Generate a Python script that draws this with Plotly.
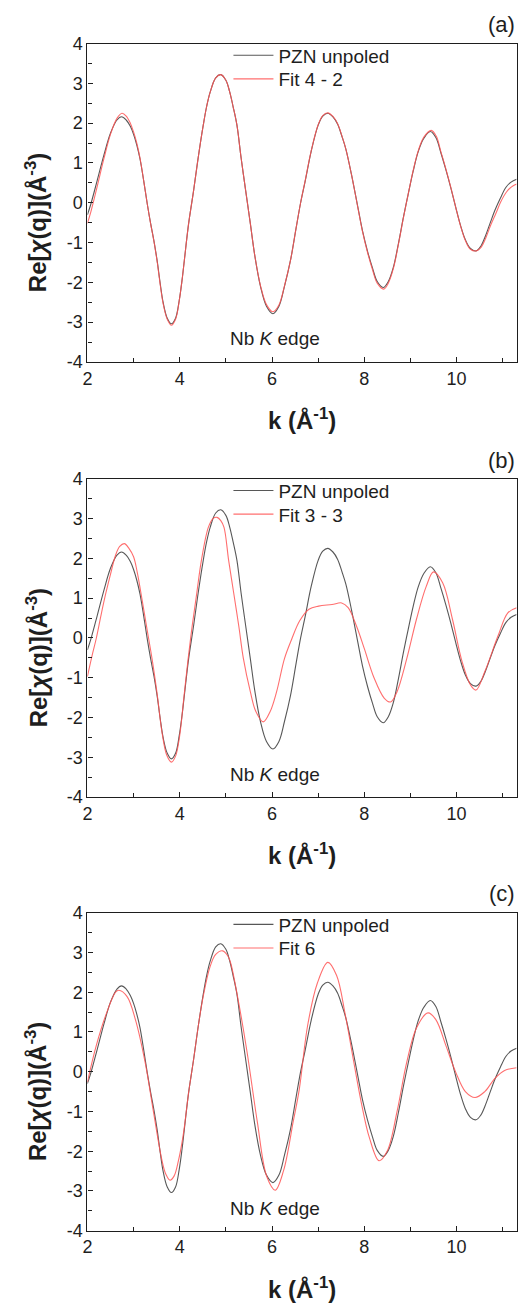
import plotly.graph_objects as go

# ---------------- data ----------------
K_UNPOLED = [2.00, 2.07, 2.21, 2.36, 2.50, 2.64, 2.74, 2.84, 2.93, 3.00, 3.07, 3.14, 3.22, 3.30,
             3.37, 3.44, 3.51, 3.58, 3.64, 3.73, 3.82, 3.91, 3.99, 4.05, 4.10, 4.19, 4.30, 4.40,
             4.51, 4.58, 4.66, 4.78, 4.89, 5.00, 5.08, 5.16, 5.24, 5.33, 5.43, 5.53, 5.63, 5.75,
             5.88, 6.02, 6.15, 6.27, 6.40, 6.52, 6.62, 6.72, 6.85, 7.00, 7.10, 7.21, 7.32, 7.42,
             7.52, 7.60, 7.72, 7.86, 7.96, 8.07, 8.18, 8.28, 8.41, 8.52, 8.63, 8.74, 8.85, 8.95,
             9.06, 9.17, 9.29, 9.43, 9.55, 9.66, 9.77, 9.88, 9.98, 10.08, 10.19, 10.30, 10.42,
             10.52, 10.62, 10.73, 10.83, 10.95, 11.07, 11.18, 11.30]
CHI_UNPOLED = [-0.30, -0.05, 0.55, 1.21, 1.75, 2.08, 2.16, 2.08, 1.92, 1.72, 1.45, 1.10, 0.55, -0.05,
               -0.52, -0.95, -1.45, -2.05, -2.50, -2.90, -3.04, -2.90, -2.45, -1.95, -1.45, -0.55, 0.30, 1.13,
               1.95, 2.40, 2.78, 3.14, 3.22, 3.08, 2.80, 2.40, 1.95, 1.13, 0.30, -0.52, -1.35, -2.10,
               -2.60, -2.79, -2.60, -2.10, -1.45, -0.65, 0.00, 0.55, 1.30, 1.95, 2.18, 2.25, 2.16, 1.98,
               1.65, 1.35, 0.72, -0.11, -0.70, -1.22, -1.65, -1.98, -2.13, -1.98, -1.62, -1.02, -0.35, 0.21,
               0.80, 1.29, 1.62, 1.79, 1.64, 1.25, 0.82, 0.35, -0.11, -0.55, -0.93, -1.15, -1.21,
               -1.10, -0.85, -0.50, -0.19, 0.12, 0.39, 0.52, 0.59]

K_FIT_A = [2.00, 2.07, 2.21, 2.36, 2.50, 2.64, 2.75, 2.84, 2.93, 3.00, 3.07, 3.14, 3.22, 3.30,
           3.37, 3.44, 3.51, 3.58, 3.64, 3.73, 3.82, 3.91, 3.99, 4.05, 4.10, 4.19, 4.30, 4.40,
           4.51, 4.58, 4.66, 4.78, 4.89, 5.00, 5.08, 5.16, 5.24, 5.33, 5.43, 5.53, 5.63, 5.75,
           5.88, 6.02, 6.15, 6.27, 6.40, 6.52, 6.62, 6.72, 6.85, 7.00, 7.10, 7.21, 7.32, 7.42,
           7.52, 7.60, 7.72, 7.86, 7.96, 8.07, 8.18, 8.28, 8.42, 8.52, 8.63, 8.74, 8.85, 8.95,
           9.06, 9.17, 9.29, 9.45, 9.56, 9.66, 9.77, 9.88, 9.98, 10.08, 10.19, 10.30, 10.43,
           10.53, 10.63, 10.74, 10.85, 10.96, 11.08, 11.19, 11.30]
CHI_FIT_A = [-0.52, -0.25, 0.40, 1.12, 1.72, 2.12, 2.25, 2.18, 2.00, 1.78, 1.50, 1.12, 0.55, -0.05,
             -0.53, -0.96, -1.47, -2.08, -2.53, -2.93, -3.08, -2.93, -2.46, -1.95, -1.45, -0.55, 0.30, 1.13,
             1.95, 2.40, 2.78, 3.14, 3.22, 3.08, 2.80, 2.40, 1.95, 1.13, 0.30, -0.52, -1.35, -2.08,
             -2.56, -2.74, -2.57, -2.09, -1.45, -0.65, 0.00, 0.56, 1.31, 1.96, 2.19, 2.26, 2.17, 1.99,
             1.66, 1.35, 0.72, -0.12, -0.72, -1.25, -1.69, -2.02, -2.17, -2.02, -1.65, -1.04, -0.36, 0.21,
             0.82, 1.31, 1.65, 1.82, 1.67, 1.28, 0.84, 0.36, -0.11, -0.56, -0.95, -1.17, -1.21,
             -1.12, -0.89, -0.56, -0.27, 0.03, 0.27, 0.40, 0.47]

K_FIT_B = [2.00, 2.10, 2.19, 2.30, 2.40, 2.50, 2.61, 2.70, 2.80, 2.90, 3.00, 3.08, 3.16, 3.28,
           3.40, 3.51, 3.62, 3.72, 3.82, 3.91, 4.00, 4.09, 4.18, 4.27, 4.37, 4.47, 4.62, 4.72,
           4.81, 4.89, 4.96, 5.06, 5.17, 5.28, 5.38, 5.53, 5.65, 5.81, 5.96, 6.10, 6.27, 6.42,
           6.60, 6.80, 7.01, 7.30, 7.51, 7.65, 7.83, 8.00, 8.21, 8.43, 8.57, 8.71, 8.92, 9.13,
           9.34, 9.50, 9.70, 9.91, 10.12, 10.30, 10.42, 10.61, 10.90, 11.11, 11.30]
CHI_FIT_B = [-0.97, -0.45, -0.02, 0.60, 1.13, 1.60, 2.08, 2.30, 2.37, 2.25, 2.04, 1.65, 1.13, 0.30,
             -0.52, -1.40, -2.40, -2.95, -3.12, -2.97, -2.45, -1.50, -0.55, 0.30, 1.13, 1.95, 2.78, 3.00,
             3.03, 2.95, 2.78, 1.95, 1.13, 0.30, -0.52, -1.35, -1.85, -2.11, -1.85, -1.35, -0.52, -0.05,
             0.43, 0.72, 0.80, 0.84, 0.88, 0.76, 0.30, -0.27, -1.00, -1.51, -1.61, -1.35, -0.52, 0.47,
             1.29, 1.66, 1.38, 0.47, -0.60, -1.18, -1.31, -0.85, 0.06, 0.63, 0.76]

K_FIT_C = [2.00, 2.19, 2.40, 2.61, 2.68, 2.86, 3.04, 3.25, 3.43, 3.61, 3.70, 3.79, 3.88, 3.97,
           4.05, 4.10, 4.19, 4.30, 4.40, 4.51, 4.66, 4.78, 4.93, 5.05, 5.11, 5.28, 5.46, 5.68,
           5.89, 6.07, 6.25, 6.46, 6.59, 6.77, 6.98, 7.21, 7.40, 7.58, 7.76, 7.93, 8.11, 8.32,
           8.50, 8.71, 8.92, 9.13, 9.38, 9.55, 9.77, 9.98, 10.19, 10.40, 10.61, 10.83, 11.04, 11.30]
CHI_FIT_C = [-0.26, 0.65, 1.43, 2.00, 2.05, 1.89, 1.31, 0.24, -1.00, -2.20, -2.58, -2.73, -2.62, -2.25,
             -1.78, -1.40, -0.55, 0.30, 1.13, 1.90, 2.65, 2.95, 3.04, 2.90, 2.71, 1.72, 0.49, -1.25,
             -2.65, -2.98, -2.49, -1.25, -0.45, 1.15, 2.22, 2.75, 2.42, 1.48, 0.32, -0.75, -1.66, -2.24,
             -1.99, -1.00, 0.24, 1.10, 1.48, 1.31, 0.65, -0.01, -0.50, -0.65, -0.50, -0.17, 0.03, 0.10]

FIT_NAMES = ["Fit 4 - 2", "Fit 3 - 3", "Fit 6"]
PANEL_LABELS = ["(a)", "(b)", "(c)"]
DATA_NAME = "PZN unpoled"
Y_TICKS = [-4, -3, -2, -1, 0, 1, 2, 3, 4]
Y_TICK_TEXT = [str(v) for v in Y_TICKS]
X_TICKS = [2, 4, 6, 8, 10]
X_TICK_TEXT = [str(v) for v in X_TICKS]
X_RANGE = [2, 11.3]
Y_RANGE = [-4, 4]

# ---------------- figure ----------------
# The page body keeps its default 8px margin, so the figure is 16px smaller than
# the window and every reference pixel position is shifted by OFF.
WIN_W, WIN_H, OFF = 526, 1314, 8
W, H = WIN_W - 2 * OFF, WIN_H - 2 * OFF
FONT = "Arial, Liberation Sans, sans-serif"
TXT = "#1e1e1e"
BLACK_LINE = "rgba(45,45,45,0.8)"
RED_LINE = "rgba(255,85,85,0.85)"


def px_x(x):
    return (x - OFF) / W


def px_y(y):
    return 1 - (y - OFF) / H


fits = [(K_FIT_A, CHI_FIT_A), (K_FIT_B, CHI_FIT_B), (K_FIT_C, CHI_FIT_C)]
panel_px = [(34, 357.3), (476, 799.3), (916.7, 1239.7)]
x_px = (83.3, 517.6)

fig = go.Figure()
layout = dict(
    width=W, height=H,
    margin=dict(l=0, r=0, t=0, b=0, pad=0),
    paper_bgcolor="white", plot_bgcolor="white",
    font=dict(family=FONT, color=TXT, size=18),
    showlegend=True,
)
annotations = []

legend_n = 0
for i in range(3):
    sfx = "" if i == 0 else str(i + 1)
    xa = "x" + sfx
    ya = "y" + sfx
    top, bot = panel_px[i]
    fk, fc = fits[i]
    series = [(K_UNPOLED, CHI_UNPOLED, DATA_NAME, BLACK_LINE, 12),
              (fk, fc, FIT_NAMES[i], RED_LINE, 36)]
    for kx, cy, name, color, row_dy in series:
        legend_n += 1
        lid = "legend" if legend_n == 1 else "legend" + str(legend_n)
        fig.add_trace(go.Scatter(x=kx, y=cy, mode="lines", name=name,
                                 line=dict(color=color, width=1.1, shape="spline", smoothing=1.0),
                                 xaxis=xa, yaxis=ya, legend=lid))
        layout[lid] = dict(x=px_x(226), y=px_y(top + row_dy), xanchor="left", yanchor="middle",
                           bgcolor="rgba(0,0,0,0)", borderwidth=0,
                           font=dict(size=19, family=FONT, color=TXT),
                           itemwidth=40, tracegroupgap=0)
    axis_common = dict(showline=True, mirror=True, linecolor=TXT, linewidth=1.3,
                       ticks="inside", ticklen=5, tickwidth=1.1, tickcolor=TXT,
                       showgrid=False, zeroline=False, tickfont=dict(size=18, family=FONT, color=TXT))
    layout["xaxis" + sfx] = dict(domain=[px_x(x_px[0]), px_x(x_px[1])], range=X_RANGE, anchor=ya,
                                 tickvals=X_TICKS, ticktext=X_TICK_TEXT,
                                 minor=dict(dtick=1, tick0=2, ticks="inside", ticklen=4, tickcolor=TXT),
                                 **axis_common)
    layout["yaxis" + sfx] = dict(domain=[px_y(bot), px_y(top)], range=Y_RANGE, anchor=xa,
                                 tickvals=Y_TICKS, ticktext=Y_TICK_TEXT,
                                 minor=dict(dtick=0.5, tick0=0, ticks="inside", ticklen=4, tickcolor=TXT),
                                 **axis_common)
    annotations.append(dict(text="<b>k (Å<sup>-1</sup>)</b>", xref="paper", yref="paper",
                            x=px_x((x_px[0] + x_px[1]) / 2), y=px_y(bot + 58),
                            xanchor="center", yanchor="middle", showarrow=False,
                            font=dict(size=24, family=FONT, color=TXT)))
    annotations.append(dict(text="<b>Re[<i>χ</i>(q)](Å<sup>-3</sup>)</b>", xref="paper", yref="paper",
                            x=px_x(32), y=px_y((top + bot) / 2 + 20), textangle=-90,
                            xanchor="center", yanchor="middle", showarrow=False,
                            font=dict(size=24, family=FONT, color=TXT)))
    annotations.append(dict(text=PANEL_LABELS[i], xref="paper", yref="paper",
                            x=px_x(518), y=px_y(top - 19), xanchor="right", yanchor="middle",
                            showarrow=False, font=dict(size=22, family=FONT, color=TXT)))
    annotations.append(dict(text="Nb <i>K</i> edge", xref="paper", yref="paper",
                            x=px_x(273), y=px_y(top + 300), xanchor="center", yanchor="middle",
                            showarrow=False, font=dict(size=19, family=FONT, color=TXT)))

layout["annotations"] = annotations
fig.update_layout(**layout)
fig.write_html("out.html", config={"displayModeBar": False})
